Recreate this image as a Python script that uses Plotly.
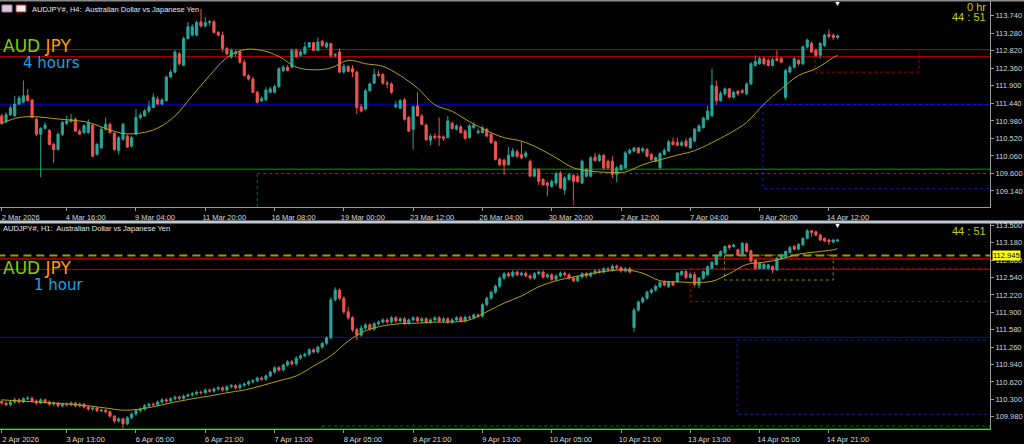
import plotly.graph_objects as go

# ---------------- TOP PANEL (H4) DATA ----------------
top_open = [111.11,110.96,111.14,111.11,111.42,111.47,111.64,111.53,111.02,110.63,
            110.78,110.73,110.36,110.23,110.63,110.91,110.96,111.02,110.71,110.67,
            110.67,110.87,110.10,110.27,110.76,110.89,110.65,110.20,110.50,110.58,
            110.32,110.63,111.07,111.11,111.24,111.33,111.55,111.42,111.51,112.13,
            112.26,112.74,112.44,113.14,113.23,113.23,113.58,113.47,113.56,113.58,
            113.30,113.23,112.88,112.66,112.74,112.79,112.52,112.17,112.08,111.73,
            111.51,111.53,111.73,111.73,111.88,112.30,112.39,112.39,112.83,112.70,
            112.74,112.92,113.03,112.83,113.07,112.92,113.01,112.70,112.79,112.26,
            112.41,112.35,112.26,111.35,111.29,111.77,111.97,112.20,112.20,111.97,
            111.95,111.35,111.31,111.53,111.07,110.76,111.37,111.11,110.87,110.47,
            110.58,110.58,110.56,110.54,110.92,110.76,110.82,110.71,110.54,110.80,
            110.67,110.67,110.76,110.62,110.43,109.97,109.95,109.83,110.05,110.17,
            110.10,110.05,109.92,109.53,109.70,109.44,109.35,109.26,109.35,109.61,
            109.17,109.44,109.55,109.53,109.35,109.53,109.53,110.03,109.94,110.07,
            109.92,109.92,109.57,109.70,109.75,110.14,110.19,110.27,110.19,110.23,
            110.10,109.92,109.75,110.10,110.19,110.43,110.41,110.34,110.45,110.27,
            110.45,110.71,110.80,111.02,111.11,111.88,111.51,111.69,111.82,111.60,
            111.76,111.77,111.69,111.95,112.43,112.48,112.61,112.57,112.43,112.61,
            112.61,111.60,112.26,112.39,112.57,112.48,112.92,113.01,112.83,112.70,
            112.96,113.25,113.23,113.17]
top_high = [111.16,111.20,111.38,111.64,111.64,112.04,111.82,111.55,111.07,110.82,
            110.94,110.76,110.41,110.67,110.98,111.11,111.16,111.07,110.76,110.89,
            111.02,110.91,110.41,110.82,111.07,110.94,110.69,110.58,110.93,110.62,
            110.58,111.29,111.20,111.29,111.51,111.70,111.62,111.58,112.17,112.32,
            112.83,112.79,113.19,113.58,113.52,113.61,113.92,113.71,113.63,113.63,
            113.34,113.32,112.92,112.88,112.83,112.83,112.59,112.20,112.13,111.77,
            111.62,111.86,111.88,111.93,112.39,112.44,112.44,112.88,112.88,112.83,
            113.05,113.05,113.05,113.17,113.11,113.05,113.03,112.76,112.88,112.48,
            112.44,112.44,112.30,111.42,111.82,111.99,112.35,112.30,112.23,112.04,
            111.99,111.51,111.55,111.58,111.11,111.38,111.73,111.16,110.91,110.63,
            110.65,111.07,110.60,111.11,110.96,110.89,110.87,110.76,110.89,110.94,
            110.78,110.85,110.80,110.67,110.46,110.01,109.99,110.30,110.27,110.23,
            110.45,110.19,109.97,109.75,109.75,109.48,109.39,109.44,109.64,109.66,
            109.53,109.62,109.59,109.57,109.97,109.75,110.05,110.14,110.12,110.12,
            109.97,110.05,109.79,109.85,110.19,110.25,110.30,110.30,110.29,110.27,
            110.14,110.05,110.16,110.26,110.48,110.54,110.54,110.47,110.52,110.56,
            110.80,110.89,111.09,111.38,112.35,112.04,111.76,111.86,111.84,111.77,
            111.79,111.82,111.99,112.52,112.70,112.66,112.66,112.61,112.64,112.83,
            112.66,112.35,112.44,112.66,112.61,112.96,113.14,113.07,112.88,113.05,
            113.27,113.38,113.27,113.25]
top_low = [110.87,110.91,111.11,111.09,111.40,111.44,111.49,111.05,110.58,109.50,
           110.76,110.34,109.88,110.20,110.58,110.87,110.94,110.70,110.61,110.64,
           110.64,110.03,110.07,110.25,110.72,110.65,110.20,110.10,110.46,110.28,
           110.28,110.61,111.02,111.09,111.18,111.31,111.39,111.39,111.49,112.10,
           112.23,112.44,112.41,113.11,113.20,113.20,113.43,113.43,113.48,113.27,
           113.20,112.79,112.70,112.61,112.67,112.48,112.14,112.04,111.71,111.44,
           111.47,111.51,111.70,111.70,111.84,112.26,112.28,112.35,112.63,112.66,
           112.72,112.89,112.81,112.81,112.92,112.88,112.63,112.63,112.23,112.22,
           112.26,112.13,111.16,111.20,111.26,111.75,111.95,112.14,111.93,111.84,
           111.69,111.31,111.29,110.99,110.69,110.23,111.09,110.87,110.45,110.34,
           110.49,110.32,110.45,110.52,110.75,110.73,110.65,110.49,110.51,110.78,
           110.63,110.65,110.56,110.38,109.94,109.79,109.57,109.81,110.03,110.01,
           109.97,110.01,109.50,109.50,109.30,109.28,109.00,109.23,109.28,109.19,
           109.04,109.41,108.76,109.35,109.32,109.50,109.50,109.90,109.90,109.70,
           109.70,109.48,109.37,109.66,109.72,110.10,110.16,110.12,110.14,110.03,
           109.92,109.90,109.70,110.07,110.16,110.34,110.32,110.31,110.29,110.25,
           110.42,110.69,110.78,110.99,111.09,111.40,111.48,111.64,111.57,111.57,
           111.64,111.69,111.66,111.92,112.41,112.45,112.44,112.41,112.41,112.54,
           112.50,111.53,112.23,112.35,112.44,112.44,112.88,112.76,112.66,112.61,
           112.92,113.14,113.10,113.12]
top_close = [110.91,111.14,111.32,111.42,111.58,111.64,111.51,111.07,110.63,110.78,
             110.87,110.36,110.23,110.63,110.94,110.98,111.02,110.71,110.63,110.85,
             110.94,110.05,110.36,110.76,110.89,110.67,110.23,110.54,110.89,110.29,
             110.54,111.07,111.13,111.24,111.35,111.60,111.42,111.53,112.13,112.26,
             112.79,112.48,113.14,113.45,113.45,113.56,113.47,113.56,113.58,113.30,
             113.23,112.88,112.74,112.83,112.79,112.52,112.17,112.08,111.73,111.47,
             111.57,111.79,111.82,111.88,112.35,112.39,112.30,112.83,112.66,112.79,
             112.92,113.03,112.83,113.05,112.96,113.01,112.70,112.72,112.26,112.41,
             112.28,112.26,111.33,111.24,111.77,111.95,112.20,112.17,111.97,111.95,
             111.73,111.40,111.51,111.02,110.71,111.35,111.11,110.89,110.49,110.58,
             110.54,110.54,110.52,110.98,110.78,110.85,110.67,110.52,110.85,110.87,
             110.71,110.80,110.58,110.41,109.97,109.83,109.82,110.08,110.19,110.05,
             110.01,110.14,109.53,109.70,109.39,109.30,109.29,109.39,109.59,109.22,
             109.48,109.57,109.39,109.39,109.92,109.70,110.01,109.94,110.07,109.75,
             109.75,109.57,109.75,109.81,110.14,110.21,110.27,110.14,110.25,110.05,
             109.97,110.01,110.12,110.21,110.43,110.36,110.34,110.41,110.32,110.52,
             110.76,110.85,111.05,111.24,111.91,111.51,111.70,111.82,111.60,111.73,
             111.69,111.73,111.95,112.48,112.54,112.61,112.48,112.43,112.59,112.57,
             112.52,112.30,112.39,112.61,112.48,112.92,113.10,112.79,112.70,113.01,
             113.23,113.20,113.17,113.21]
top_ma_idx = [0,4,8,12,16,20,24,28,32,36,40,44,48,52,56,60,64,68,72,76,80,84,88,92,96,
              100,104,108,112,116,120,124,128,132,136,140,144,148,152,156,160,164,168,
              172,176,180,184,188,192,193]
top_ma = [110.92,111.07,111.09,111.04,111.00,110.94,110.78,110.65,110.66,110.79,111.11,
          111.64,112.17,112.64,112.85,112.83,112.67,112.39,112.32,112.37,112.57,112.48,
          112.41,112.17,111.84,111.40,111.23,110.96,110.72,110.54,110.45,110.26,110.01,
          109.75,109.66,109.63,109.64,109.83,109.96,110.08,110.20,110.41,110.65,110.94,
          111.42,111.82,112.17,112.35,112.64,112.70]
top_tick_idx = [0,15,31,47,63,79,95,111,127,143,159,175,191]
top_tick_text = ["2 Mar 2026","4 Mar 16:00","9 Mar 04:00","11 Mar 20:00","16 Mar 08:00",
                 "19 Mar 00:00","23 Mar 12:00","26 Mar 04:00","30 Mar 20:00","2 Apr 12:00",
                 "7 Apr 04:00","9 Apr 20:00","14 Apr 12:00"]
top_price_ticks = [109.14,109.60,110.06,110.52,110.98,111.44,111.90,112.36,112.82,113.28,113.74]
top_red_levels = [112.85,112.665]
top_navy_level = 111.41
top_green_level = 109.71

# ---------------- BOTTOM PANEL (H1) DATA ----------------
bot_open = [110.26,110.23,110.20,110.25,110.29,110.25,110.31,110.32,110.27,110.23,
            110.29,110.25,110.21,110.23,110.18,110.21,110.20,110.23,110.18,110.21,
            110.16,110.12,110.14,110.09,110.10,110.07,109.99,109.90,109.94,109.85,
            109.96,110.03,110.09,110.12,110.18,110.21,110.20,110.25,110.29,110.27,
            110.31,110.34,110.32,110.36,110.38,110.40,110.43,110.42,110.47,110.45,
            110.49,110.51,110.47,110.53,110.55,110.51,110.56,110.58,110.62,110.64,
            110.69,110.67,110.73,110.80,110.88,110.84,110.93,110.99,110.95,111.06,
            111.10,111.13,111.21,111.17,111.26,111.33,111.43,112.13,112.31,112.16,
            111.91,111.80,111.58,111.48,111.61,111.67,111.59,111.69,111.72,111.76,
            111.72,111.80,111.74,111.78,111.70,111.76,111.80,111.74,111.78,111.72,
            111.76,111.80,111.74,111.78,111.72,111.76,111.80,111.74,111.81,111.80,
            111.85,111.83,112.04,112.16,112.27,112.38,112.53,112.61,112.57,112.64,
            112.59,112.62,112.57,112.53,112.61,112.64,112.55,112.59,112.51,112.57,
            112.62,112.59,112.53,112.48,112.55,112.61,112.57,112.62,112.66,112.64,
            112.70,112.68,112.75,112.72,112.66,112.70,111.62,111.94,112.09,112.16,
            112.27,112.31,112.37,112.46,112.37,112.46,112.46,112.59,112.65,112.54,
            112.59,112.40,112.53,112.59,112.71,112.78,112.94,112.99,113.13,113.11,
            113.05,112.95,113.16,113.03,112.86,112.71,112.71,112.71,112.74,112.68,
            112.89,112.92,113.00,113.11,113.06,113.14,113.26,113.40,113.38,113.32,
            113.26,113.23,113.19,113.21]
bot_high = [110.29,110.26,110.28,110.33,110.32,110.34,110.36,110.35,110.30,110.32,
            110.31,110.28,110.26,110.25,110.24,110.24,110.26,110.25,110.24,110.23,
            110.19,110.17,110.16,110.13,110.13,110.09,110.01,109.97,109.96,109.99,
            110.06,110.12,110.15,110.21,110.24,110.24,110.28,110.32,110.32,110.34,
            110.37,110.37,110.39,110.41,110.43,110.46,110.46,110.50,110.50,110.52,
            110.54,110.54,110.56,110.58,110.58,110.59,110.61,110.65,110.67,110.72,
            110.72,110.76,110.83,110.91,110.91,110.96,111.02,111.02,111.09,111.13,
            111.16,111.24,111.24,111.29,111.36,111.46,112.18,112.36,112.34,112.19,
            112.00,111.83,111.62,111.66,111.70,111.70,111.72,111.75,111.79,111.79,
            111.83,111.83,111.81,111.81,111.79,111.83,111.83,111.81,111.81,111.79,
            111.83,111.83,111.81,111.81,111.79,111.83,111.83,111.84,111.84,111.88,
            111.88,112.07,112.19,112.30,112.41,112.56,112.64,112.64,112.67,112.67,
            112.65,112.65,112.60,112.64,112.67,112.67,112.62,112.62,112.60,112.65,
            112.65,112.62,112.56,112.58,112.64,112.64,112.65,112.69,112.69,112.73,
            112.73,112.78,112.78,112.75,112.73,112.73,111.98,112.12,112.19,112.30,
            112.34,112.41,112.47,112.49,112.48,112.48,112.64,112.67,112.68,112.62,
            112.65,112.55,112.67,112.76,112.84,112.97,113.04,113.13,113.15,113.16,
            113.07,113.19,113.18,113.05,112.88,112.83,112.80,112.79,112.76,112.92,
            112.98,113.04,113.12,113.14,113.17,113.28,113.43,113.41,113.40,113.35,
            113.28,113.25,113.25,113.25]
bot_low = [110.20,110.17,110.17,110.22,110.22,110.23,110.28,110.24,110.20,110.21,
           110.22,110.18,110.18,110.15,110.15,110.17,110.17,110.15,110.15,110.13,
           110.09,110.09,110.06,110.06,110.04,109.96,109.86,109.87,109.77,109.82,
           109.93,110.00,110.06,110.09,110.15,110.17,110.17,110.22,110.24,110.24,
           110.28,110.29,110.29,110.33,110.35,110.37,110.39,110.39,110.42,110.42,
           110.46,110.44,110.44,110.50,110.48,110.48,110.53,110.55,110.59,110.61,
           110.64,110.64,110.70,110.77,110.81,110.81,110.90,110.92,110.92,111.03,
           111.07,111.10,111.14,111.14,111.23,111.30,111.40,112.10,112.12,111.87,
           111.76,111.54,111.39,111.45,111.58,111.56,111.56,111.66,111.69,111.69,
           111.69,111.71,111.71,111.67,111.67,111.73,111.71,111.71,111.69,111.69,
           111.73,111.71,111.71,111.69,111.69,111.73,111.71,111.71,111.77,111.77,
           111.80,111.80,112.01,112.13,112.24,112.35,112.50,112.54,112.54,112.56,
           112.56,112.54,112.50,112.50,112.58,112.52,112.52,112.48,112.48,112.54,
           112.56,112.50,112.45,112.45,112.52,112.54,112.54,112.59,112.61,112.61,
           112.65,112.65,112.69,112.63,112.63,112.61,111.54,111.91,112.06,112.13,
           112.24,112.28,112.35,112.38,112.35,112.38,112.44,112.57,112.51,112.52,
           112.37,112.34,112.50,112.57,112.69,112.76,112.92,112.97,113.05,113.09,
           112.93,112.93,113.00,112.82,112.68,112.69,112.69,112.69,112.62,112.66,
           112.87,112.90,112.98,113.04,113.04,113.12,113.24,113.29,113.30,113.21,
           113.19,113.14,113.17,113.19]
bot_close = [110.23,110.20,110.25,110.29,110.25,110.31,110.32,110.27,110.23,110.29,
             110.25,110.21,110.23,110.18,110.21,110.20,110.23,110.18,110.21,110.16,
             110.12,110.14,110.09,110.10,110.07,109.99,109.90,109.94,109.85,109.96,
             110.03,110.09,110.12,110.18,110.21,110.20,110.25,110.29,110.27,110.31,
             110.34,110.32,110.36,110.38,110.40,110.43,110.42,110.47,110.45,110.49,
             110.51,110.47,110.53,110.55,110.51,110.56,110.58,110.62,110.64,110.69,
             110.67,110.73,110.80,110.88,110.84,110.93,110.99,110.95,111.06,111.10,
             111.13,111.21,111.17,111.26,111.33,111.43,112.13,112.31,112.16,111.91,
             111.80,111.58,111.48,111.61,111.67,111.59,111.69,111.72,111.76,111.72,
             111.80,111.74,111.78,111.70,111.76,111.80,111.74,111.78,111.72,111.76,
             111.80,111.74,111.78,111.72,111.76,111.80,111.74,111.81,111.80,111.85,
             111.83,112.04,112.16,112.27,112.38,112.53,112.61,112.57,112.64,112.59,
             112.62,112.57,112.53,112.61,112.64,112.55,112.59,112.51,112.57,112.62,
             112.59,112.53,112.48,112.55,112.61,112.57,112.62,112.66,112.64,112.70,
             112.68,112.75,112.72,112.66,112.70,112.64,111.94,112.09,112.16,112.27,
             112.31,112.38,112.45,112.40,112.46,112.40,112.62,112.65,112.54,112.60,
             112.41,112.53,112.65,112.74,112.82,112.95,113.02,113.11,113.09,113.14,
             112.95,113.17,113.02,112.84,112.71,112.80,112.78,112.77,112.68,112.89,
             112.95,113.02,113.09,113.06,113.15,113.26,113.40,113.37,113.32,113.23,
             113.21,113.20,113.23,113.23]
bot_ma_idx = [0,4,8,12,16,20,24,28,32,36,40,44,48,52,56,60,64,68,72,76,80,84,88,92,96,
              100,104,108,112,116,120,124,128,132,136,140,144,148,152,156,160,164,168,
              172,176,180,184,188,192,193]
bot_ma = [110.29,110.27,110.25,110.23,110.21,110.18,110.14,110.10,110.12,110.18,110.25,
          110.31,110.36,110.42,110.47,110.55,110.64,110.73,110.91,111.10,111.37,111.56,
          111.65,111.69,111.70,111.72,111.72,111.76,111.91,112.07,112.20,112.37,112.48,
          112.55,112.61,112.66,112.68,112.62,112.48,112.46,112.45,112.47,112.61,112.78,
          112.82,112.88,112.97,113.01,113.05,113.07]
bot_tick_idx = [0,15,31,47,63,79,95,111,127,143,159,175,191]
bot_tick_text = ["2 Apr 2026","3 Apr 13:00","6 Apr 05:00","6 Apr 21:00","7 Apr 13:00",
                 "8 Apr 05:00","8 Apr 21:00","9 Apr 13:00","10 Apr 05:00","10 Apr 21:00",
                 "13 Apr 13:00","14 Apr 05:00","14 Apr 21:00"]
bot_price_ticks = [109.98,110.30,110.62,110.94,111.26,111.58,111.90,112.22,112.54,112.86,113.18,113.50]
bid_price = 112.945
bot_red_levels = [112.885,112.69]
bot_blue_level = 111.44
bot_green_level = 109.76

N = 194
BG = "#000000"
AXC = "#9A9A9A"
TXT = "#D8D8D8"
UP = "#26A69A"
DN = "#EF5350"
MA_C = "#B4A20A"
H = 444.0
W = 1024.0

def py(p):
    return 1 - p / H

fig = go.Figure()
candle_style = dict(
    increasing=dict(line=dict(color=UP, width=1), fillcolor=UP),
    decreasing=dict(line=dict(color=DN, width=1), fillcolor=DN),
    showlegend=False, hoverinfo="skip")
fig.add_trace(go.Candlestick(x=list(range(N)), open=top_open, high=top_high, low=top_low,
                             close=top_close, xaxis="x", yaxis="y", **candle_style))
fig.add_trace(go.Scatter(x=top_ma_idx, y=top_ma, mode="lines",
                         line=dict(color=MA_C, width=1, shape="spline"),
                         xaxis="x", yaxis="y", showlegend=False, hoverinfo="skip"))
fig.add_trace(go.Candlestick(x=list(range(N)), open=bot_open, high=bot_high, low=bot_low,
                             close=bot_close, xaxis="x2", yaxis="y2", **candle_style))
fig.add_trace(go.Scatter(x=bot_ma_idx, y=bot_ma, mode="lines",
                         line=dict(color=MA_C, width=1, shape="spline"),
                         xaxis="x2", yaxis="y2", showlegend=False, hoverinfo="skip"))

xr = [-0.4, 228.2]
xdom = [0, 990 / W]
common_x = dict(range=xr, domain=xdom, showgrid=False, zeroline=False, showline=True,
                linecolor=AXC, linewidth=1, ticks="outside", ticklen=3, tickcolor=AXC,
                tickfont=dict(family="Liberation Sans", size=7.5, color=TXT),
                ticklabelshift=19, rangeslider=dict(visible=False), fixedrange=True)
common_y = dict(side="right", showgrid=False, zeroline=False, showline=True, linecolor=AXC,
                linewidth=1, ticks="outside", ticklen=3, tickcolor=AXC, tickformat=".3f",
                tickfont=dict(family="Liberation Sans", size=7.5, color=TXT), fixedrange=True)

fig.update_layout(
    width=1024, height=444, margin=dict(l=0, r=0, t=0, b=0),
    paper_bgcolor=BG, plot_bgcolor=BG, showlegend=False, hovermode=False,
    xaxis=dict(common_x, anchor="y", tickvals=top_tick_idx, ticktext=top_tick_text),
    yaxis=dict(common_y, anchor="x", domain=[py(207), 1.0], range=[108.72, 114.152],
               tickvals=top_price_ticks),
    xaxis2=dict(common_x, anchor="y2", tickvals=bot_tick_idx, ticktext=bot_tick_text),
    yaxis2=dict(common_y, anchor="x2", domain=[py(429.3), py(222)], range=[109.748, 113.561],
                tickvals=bot_price_ticks),
)

shapes = []
def hline(xref, yref, y, color, width=1, dash="solid", x0=-1, x1=240):
    shapes.append(dict(type="line", xref=xref, yref=yref, x0=x0, x1=x1, y0=y, y1=y,
                       line=dict(color=color, width=width, dash=dash), layer="below"))
def rect(xref, yref, x0, x1, y0, y1, color, dash="dot"):
    shapes.append(dict(type="rect", xref=xref, yref=yref, x0=x0, x1=x1, y0=y0, y1=y1,
                       line=dict(color=color, width=1, dash=dash), layer="below"))

# top panel objects
hline("x", "y", top_red_levels[0], "#C00000")
hline("x", "y", top_red_levels[1], "#C00000")
hline("x", "y", top_navy_level, "#00008C", width=2)
hline("x", "y", top_green_level, "#006A00", width=1.5)
rect("x", "y", 187.8, 211.8, 112.85, 112.26, "#B00000")
rect("x", "y", 175.8, 240, 111.41, 109.20, "#1A1AB0")
rect("x", "y", 59, 240, 109.597, 108.0, "#007A00")
shapes.append(dict(type="line", xref="x", yref="y", x0=132.1, x1=132.1, y0=108.9, y1=108.6,
                   line=dict(color="#B00000", width=1)))

# bottom panel objects
hline("x2", "y2", bid_price, "#A09A00", width=2, dash="8px,5px")
hline("x2", "y2", bot_red_levels[0], "#A00000", width=2)
hline("x2", "y2", bot_red_levels[1], "#C00000", width=1)
hline("x2", "y2", bot_blue_level, "#1010B0", width=1)
hline("x2", "y2", bot_green_level, "#006A00", width=1)
rect("x2", "y2", 159.0, 240, 112.70, 112.10, "#B00000")
rect("x2", "y2", 166.9, 192.0, 112.953, 112.494, "#8A8A00")
rect("x2", "y2", 169.8, 240, 111.39, 110.025, "#1A1AB0")
rect("x2", "y2", 74, 240, 109.81, 109.0, "#007A00")

# separators / frame bands
shapes.append(dict(type="rect", xref="paper", yref="paper", x0=0, x1=1, y0=py(223.5), y1=py(220.5),
                   fillcolor="#C0C8D0", line=dict(width=0), layer="above"))
shapes.append(dict(type="rect", xref="paper", yref="paper", x0=0, x1=1, y0=py(1.5), y1=1,
                   fillcolor="#8A8A8A", line=dict(width=0), layer="above"))
# small window icons
shapes.append(dict(type="rect", xref="paper", yref="paper", x0=2/W, x1=12/W, y0=py(12), y1=py(5),
                   fillcolor="#E6C2D0", line=dict(color="#8090C0", width=1), layer="above"))
shapes.append(dict(type="rect", xref="paper", yref="paper", x0=16/W, x1=26/W, y0=py(12), y1=py(5),
                   fillcolor="#F0F0F0", line=dict(color="#C03040", width=1), layer="above"))
fig.update_layout(shapes=shapes)

ann = []
def txt(x, y, s, size, color, fam="Liberation Sans", xanchor="left", **kw):
    ann.append(dict(x=x / W, y=py(y), xref="paper", yref="paper", text=s, showarrow=False,
                    xanchor=xanchor, yanchor="middle", font=dict(family=fam, size=size, color=color), **kw))

txt(30, 9, "AUDJPY#, H4:  Australian Dollar vs Japanese Yen", 7.5, "#E8E8E8")
txt(1, 228, "AUDJPY#, H1:  Australian Dollar vs Japanese Yen", 7.5, "#E8E8E8")
txt(988, 7, "0 hr", 11, "#CCCC00", xanchor="right")
txt(988, 17, "44 : 51", 11, "#CCCC00", xanchor="right")
txt(988, 230.5, "44 : 51", 11, "#CCCC00", xanchor="right")
txt(1, 46, "<span style='color:#80D000'>AUD</span> <span style='color:#FF9A00'>JPY</span>", 17, "#80D000", fam="DejaVu Sans")
txt(21, 63, "4 hours", 15, "#1AA3E8", fam="DejaVu Sans")
txt(1, 267.5, "<span style='color:#80D000'>AUD</span> <span style='color:#FF9A00'>JPY</span>", 17, "#80D000", fam="DejaVu Sans")
txt(32, 285, "1 hour", 15, "#1AA3E8", fam="DejaVu Sans")
txt(837, 3, "▼", 7, "#FFFFFF", xanchor="center")
txt(837, 225.5, "▼", 7, "#FFFFFF", xanchor="center")
ann.append(dict(x=992/W, y=bid_price, xref="paper", yref="y2", text="112.945", showarrow=False,
                xanchor="left", yanchor="middle", bgcolor="#FFFF00", borderpad=0,
                font=dict(family="Liberation Sans", size=7.5, color="#000000")))
fig.update_layout(annotations=ann)

fig.write_html("out.html", config={"displayModeBar": False, "staticPlot": True},
               post_script="document.body.style.margin='0';document.body.style.overflow='hidden';")
